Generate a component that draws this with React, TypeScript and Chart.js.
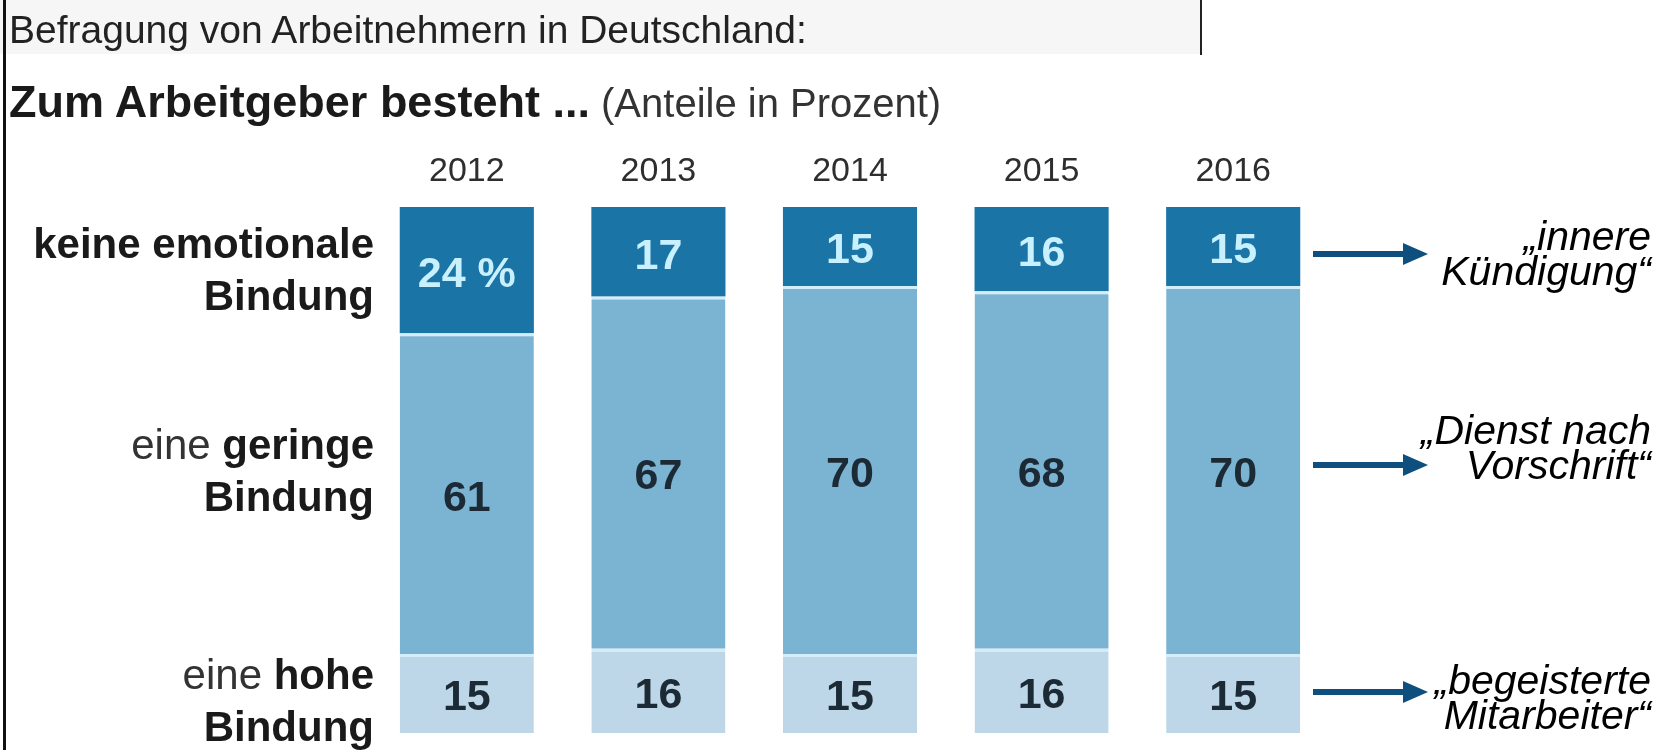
import React, { useEffect, useRef } from "react";
import { Chart, registerables } from "chart.js";

Chart.register(...registerables);

// ---- data ----
const years = ["2012", "2013", "2014", "2015", "2016"];
const keineBindung = [24, 17, 15, 16, 15]; // top segment (dark)
const geringeBindung = [61, 67, 70, 68, 70]; // middle segment
const hoheBindung = [15, 16, 15, 16, 15]; // bottom segment (light)

const FONT = '"Liberation Sans", Arial, Helvetica, sans-serif';

const segmentLabels = {
  id: "segmentLabels",
  afterDatasetsDraw(chart: any) {
    const ctx = chart.ctx;
    ctx.save();
    ctx.font = `bold 43px ${FONT}`;
    ctx.textAlign = "center";
    ctx.textBaseline = "middle";
    chart.data.datasets.forEach((ds: any, di: number) => {
      const meta = chart.getDatasetMeta(di);
      meta.data.forEach((bar: any, i: number) => {
        const p = bar.getProps(["x", "y", "base"], true);
        const v = ds.data[i];
        const isTop = di === 2;
        const text = isTop && i === 0 ? `${v} %` : `${v}`;
        ctx.fillStyle = isTop ? "#c8f0ff" : "#1c2a35";
        ctx.fillText(text, p.x, (p.y + p.base) / 2 + 5);
      });
    });
    ctx.restore();
  },
};

const arrows = {
  id: "arrows",
  afterDraw(chart: any) {
    const ctx = chart.ctx;
    const ys = [254, 465, 692];
    ctx.save();
    ctx.strokeStyle = "#0e4f7e";
    ctx.fillStyle = "#0e4f7e";
    ctx.lineWidth = 6;
    ys.forEach((y) => {
      ctx.beginPath();
      ctx.moveTo(1313, y);
      ctx.lineTo(1410, y);
      ctx.stroke();
      ctx.beginPath();
      ctx.moveTo(1403, y - 11);
      ctx.lineTo(1428, y);
      ctx.lineTo(1403, y + 11);
      ctx.closePath();
      ctx.fill();
    });
    ctx.restore();
  },
};

export default function App() {
  const canvasRef = useRef<HTMLCanvasElement | null>(null);

  useEffect(() => {
    if (!canvasRef.current) return;
    const sep = "#d4eef9";
    const chart = new Chart(canvasRef.current, {
      type: "bar",
      data: {
        labels: years,
        datasets: [
          {
            label: "eine hohe Bindung",
            data: hoheBindung,
            backgroundColor: "#bed7e8",
            borderColor: sep,
            borderWidth: { top: 3, right: 0, bottom: 0, left: 0 },
            borderSkipped: false,
            stack: "s",
          },
          {
            label: "eine geringe Bindung",
            data: geringeBindung,
            backgroundColor: "#7bb3d3",
            borderColor: sep,
            borderWidth: { top: 3, right: 0, bottom: 0, left: 0 },
            borderSkipped: false,
            stack: "s",
          },
          {
            label: "keine emotionale Bindung",
            data: keineBindung,
            backgroundColor: "#1a74a5",
            borderWidth: 0,
            stack: "s",
          },
        ],
      },
      options: {
        responsive: false,
        maintainAspectRatio: false,
        animation: false,
        layout: { padding: { left: 371, right: 339, top: 0, bottom: 17 } },
        plugins: { legend: { display: false }, tooltip: { enabled: false } },
        datasets: { bar: { categoryPercentage: 1, barPercentage: 0.7 } },
        scales: {
          x: {
            stacked: true,
            position: "top",
            grid: { display: false },
            border: { display: false },
            ticks: {
              font: { family: FONT, size: 34 },
              color: "#2e2e2e",
              padding: 7,
            },
            afterFit: (s: any) => {
              s.height = 207;
            },
          },
          y: { stacked: true, display: false, min: 0, max: 100 },
        },
      } as any,
      plugins: [segmentLabels, arrows],
    });
    return () => chart.destroy();
  }, []);

  const abs = (o: any) => ({ position: "absolute" as const, ...o });
  const labelStyle = {
    fontFamily: FONT,
    fontSize: 42,
    lineHeight: "52px",
    color: "#1a1a1a",
    textAlign: "right" as const,
    left: 0,
    width: 374,
    whiteSpace: "nowrap" as const,
  };
  const noteStyle = {
    fontFamily: FONT,
    fontSize: 41,
    fontStyle: "italic",
    lineHeight: "35px",
    color: "#000",
    textAlign: "right" as const,
    right: 17,
    whiteSpace: "nowrap" as const,
  };

  return (
    <div
      style={abs({
        left: 0,
        top: 0,
        width: 1668,
        height: 750,
        background: "#fff",
        overflow: "hidden",
      })}
    >
      <div style={abs({ left: 0, top: 0, width: 1200, height: 54, background: "#f6f6f6" })} />
      <div style={abs({ left: 1200, top: 0, width: 2, height: 55, background: "#222" })} />
      <div style={abs({ left: 3, top: 0, width: 3, height: 750, background: "#111" })} />
      <canvas
        ref={canvasRef}
        width={1668}
        height={750}
        style={abs({ left: 0, top: 0, width: 1668, height: 750 })}
      />
      <div
        style={abs({
          left: 9,
          top: 10,
          fontFamily: FONT,
          fontSize: 39,
          lineHeight: 1,
          color: "#222",
          whiteSpace: "nowrap",
        })}
      >
        Befragung von Arbeitnehmern in Deutschland:
      </div>
      <div
        style={abs({
          left: 9,
          top: 80,
          fontFamily: FONT,
          lineHeight: "44px",
          color: "#1a1a1a",
          whiteSpace: "nowrap",
        })}
      >
        <b style={{ fontSize: 45 }}>Zum Arbeitgeber besteht ...</b>
        <span style={{ color: "#333", fontSize: 40 }}> (Anteile in Prozent)</span>
      </div>

      <div style={abs({ ...labelStyle, top: 218 })}>
        <b>keine emotionale</b>
        <br />
        <b>Bindung</b>
      </div>
      <div style={abs({ ...labelStyle, top: 419 })}>
        <span style={{ color: "#333" }}>eine </span>
        <b>geringe</b>
        <br />
        <b>Bindung</b>
      </div>
      <div style={abs({ ...labelStyle, top: 649 })}>
        <span style={{ color: "#333" }}>eine </span>
        <b>hohe</b>
        <br />
        <b>Bindung</b>
      </div>

      <div style={abs({ ...noteStyle, top: 219 })}>
        „innere
        <br />
        Kündigung“
      </div>
      <div style={abs({ ...noteStyle, top: 413 })}>
        „Dienst nach
        <br />
        Vorschrift“
      </div>
      <div style={abs({ ...noteStyle, top: 663 })}>
        „begeisterte
        <br />
        Mitarbeiter“
      </div>
    </div>
  );
}
